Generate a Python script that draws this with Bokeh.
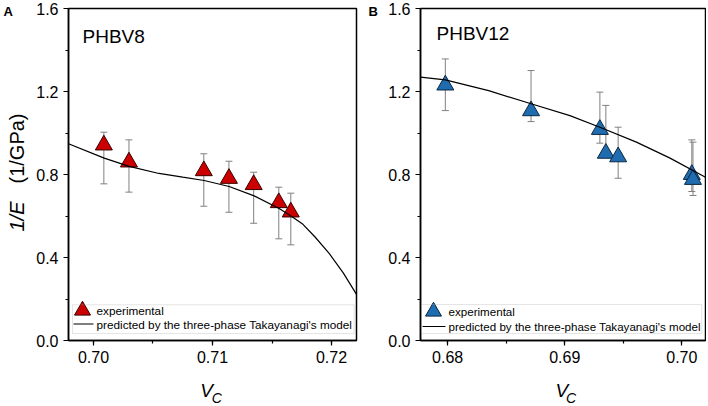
import math
from bokeh.plotting import figure
from bokeh.layouts import row, column
from bokeh.models import (Range1d, SingleIntervalTicker, PrintfTickFormatter, Whisker,
                          ColumnDataSource, Label, BoxAnnotation, TeeHead)
from bokeh.core.properties import value
from bokeh.embed import file_html
from bokeh.resources import INLINE

# ---------------- data ----------------
# Panel A : PHBV8
a_vc = [0.70087, 0.70298, 0.70927, 0.71138, 0.71346, 0.71557, 0.71658]
a_inv_e = [0.942, 0.860, 0.818, 0.781, 0.751, 0.664, 0.619]
a_err_hi = [1.004, 0.967, 0.900, 0.864, 0.811, 0.739, 0.710]
a_err_lo = [0.755, 0.715, 0.647, 0.618, 0.565, 0.490, 0.461]
a_model_vc = [0.6979, 0.7009, 0.7030, 0.7055, 0.7075, 0.7093, 0.7114, 0.7135, 0.7156,
              0.7166, 0.7176, 0.7186, 0.7198, 0.7210, 0.7221]
a_model = [0.948, 0.879, 0.839, 0.805, 0.787, 0.771, 0.742, 0.697, 0.636,
           0.600, 0.560, 0.500, 0.420, 0.325, 0.222]

# Panel B : PHBV12
b_vc = [0.6798, 0.68712, 0.6930, 0.69351, 0.69456, 0.70085, 0.70095]
b_inv_e = [1.231, 1.107, 1.017, 0.902, 0.885, 0.800, 0.776]
b_err_hi = [1.357, 1.301, 1.197, 1.133, 1.028, 0.967, 0.956]
b_err_lo = [1.108, 1.055, 0.951, 0.885, 0.782, 0.718, 0.699]
b_model_vc = [0.67768, 0.6798, 0.6835, 0.68712, 0.69044, 0.6930, 0.69612, 0.69895, 0.70202]
b_model = [1.269, 1.256, 1.204, 1.141, 1.084, 1.028, 0.956, 0.880, 0.787]

a_x_range = (0.6979, 0.7221)
b_x_range = (0.67768, 0.70202)
y_range = (0.0, 1.6)
x_tick_step = 0.01
y_tick_step = 0.4

legend_marker_label = "experimental"
legend_line_label = "predicted by the three-phase Takayanagi's model"
y_label_italic = "1/E"
y_label_unit = "(1/GPa)"

FONT = "Liberation Sans"
TOTAL_H = 406
TOP = 8
BOTTOM = 30
FRAME_H = 332
PLOT_H = TOP + FRAME_H + BOTTOM
XLAB_H = TOTAL_H - PLOT_H


def make_panel(bl, fw, br, xr, vc, ye, hi, lo, mvc, mod, color, outline, name, leg):
    width = bl + fw + br
    p = figure(width=width, height=PLOT_H, output_backend="svg", toolbar_location=None,
               x_range=Range1d(*xr), y_range=Range1d(*y_range),
               min_border_left=bl, min_border_right=br, min_border_top=TOP,
               min_border_bottom=BOTTOM)
    p.grid.visible = False
    p.outline_line_color = "black"
    p.outline_line_width = 1.5
    p.background_fill_color = "white"
    p.border_fill_color = "white"

    xs = lambda px: xr[0] + px / fw * (xr[1] - xr[0])
    ys = lambda px: y_range[0] + px / FRAME_H * (y_range[1] - y_range[0])

    for ax in (p.xaxis[0], p.yaxis[0]):
        ax.axis_line_width = 1.5
        ax.axis_line_color = "black"
        ax.major_tick_in = 0
        ax.major_tick_out = 5
        ax.minor_tick_in = 0
        ax.minor_tick_out = 3
        ax.major_tick_line_width = 1.2
        ax.minor_tick_line_width = 1.2
        ax.major_label_text_font = FONT
        ax.major_label_text_font_size = "16px"
        ax.major_label_text_color = "black"
        ax.major_label_standoff = 5
    p.xaxis.ticker = SingleIntervalTicker(interval=x_tick_step, num_minor_ticks=2)
    p.xaxis.formatter = PrintfTickFormatter(format="%.2f")
    p.yaxis.ticker = SingleIntervalTicker(interval=y_tick_step, num_minor_ticks=2)
    p.yaxis.formatter = PrintfTickFormatter(format="%.1f")

    src = ColumnDataSource(dict(x=vc, y=ye, hi=hi, lo=lo))
    w = Whisker(base="x", upper="hi", lower="lo", source=src,
                line_color="#808080", line_width=1,
                upper_head=TeeHead(size=7, line_color="#808080", line_width=1),
                lower_head=TeeHead(size=7, line_color="#808080", line_width=1))
    p.add_layout(w)
    p.scatter("x", "y", source=src, marker="triangle", size=17,
              fill_color=color, line_color=outline, line_width=1)
    p.line(mvc, mod, line_color="black", line_width=1.2)

    # panel name
    p.add_layout(Label(x=xs(leg["name_x"]), y=ys(leg["name_y"]), text=name,
                       text_font=FONT, text_font_size="19px", text_color="black",
                       text_baseline="middle"))

    # legend
    p.add_layout(BoxAnnotation(left=xs(leg["box_l"]), right=xs(fw - leg["box_r"]),
                               bottom=ys(7), top=ys(leg["box_t"]),
                               fill_alpha=0, line_color="#a8a8a8", line_width=1))
    p.scatter([xs(leg["tri_x"])], [ys(leg["row1"])], marker="triangle", size=16,
              fill_color=color, line_color=outline, line_width=1)
    p.line([xs(leg["ln0"]), xs(leg["ln1"])], [ys(leg["row2"])] * 2,
           line_color="black", line_width=1.2)
    p.add_layout(Label(x=xs(28), y=ys(leg["row1"]), text=legend_marker_label,
                       text_font=FONT, text_font_size=leg["fs"], text_color="black",
                       text_baseline="middle"))
    p.add_layout(Label(x=xs(28), y=ys(leg["row2"]), text=legend_line_label,
                       text_font=FONT, text_font_size=leg["fs"], text_color="black",
                       text_baseline="middle"))
    return p


def strip(w, h):
    f = figure(width=w, height=h, output_backend="svg", toolbar_location=None,
               x_range=Range1d(0, w), y_range=Range1d(0, h), min_border=0,
               x_axis_type=None, y_axis_type=None)
    f.outline_line_color = None
    f.grid.visible = False
    f.background_fill_color = "white"
    f.border_fill_color = "white"
    return f


def xlabel_strip(w, vx, cx):
    f = strip(w, XLAB_H)
    f.text(x=[vx], y=[16], text=["V"], text_font=value(FONT), text_font_size="19px",
           text_font_style="italic", text_color="black", text_baseline="middle")
    f.text(x=[cx], y=[8.5], text=["C"], text_font=value(FONT), text_font_size="14px",
           text_font_style="italic", text_color="black", text_baseline="middle")
    return f


SA_W = 30
A_BL, A_FW, A_BR = 38, 288, 4
SB_W = 23
B_BL, B_FW, B_BR = 37, 285, 1

pa = make_panel(A_BL, A_FW, A_BR, a_x_range, a_vc, a_inv_e, a_err_hi, a_err_lo,
                a_model_vc, a_model, "#CC0000", "#3a0000", "PHBV8",
                dict(name_x=14, name_y=FRAME_H - 28.2, box_l=4, box_r=2.4,
                     box_t=35.7, tri_x=14, row1=30, row2=16.5, ln0=5, ln1=25,
                     fs="11.75px"))
pb = make_panel(B_BL, B_FW, B_BR, b_x_range, b_vc, b_inv_e, b_err_hi, b_err_lo,
                b_model_vc, b_model, "#1F6DB0", "#0b2740", "PHBV12",
                dict(name_x=16, name_y=FRAME_H - 25.2, box_l=1, box_r=3.7,
                     box_t=36, tri_x=13, row1=29, row2=14, ln0=2, ln1=25,
                     fs="11.6px"))

# left strip with panel letter A and the y-axis title
sa = strip(SA_W, TOTAL_H)
sa.text(x=[3], y=[TOTAL_H - 11], text=["A"], text_font=value(FONT), text_font_size="13px",
        text_font_style="bold", text_color="black", text_baseline="middle")
sa.text(x=[16], y=[TOTAL_H - 216], text=[y_label_italic], angle=math.pi / 2,
        text_font=value(FONT), text_font_size="20px", text_font_style="italic",
        text_color="black", text_align="center", text_baseline="middle")
sa.text(x=[16], y=[TOTAL_H - 148], text=[y_label_unit], angle=math.pi / 2,
        text_font=value(FONT), text_font_size="20px",
        text_color="black", text_align="center", text_baseline="middle")

# gap strip with panel letter B
sb = strip(SB_W, TOTAL_H)
sb.text(x=[8], y=[TOTAL_H - 11], text=["B"], text_font=value(FONT), text_font_size="13px",
        text_font_style="bold", text_color="black", text_baseline="middle")

xa = xlabel_strip(A_BL + A_FW + A_BR, 151, 164)
xb = xlabel_strip(B_BL + B_FW + B_BR, 153, 165)

layout = row(sa, column(pa, xa), sb, column(pb, xb))
open("out.html", "w").write(file_html(layout, INLINE))
